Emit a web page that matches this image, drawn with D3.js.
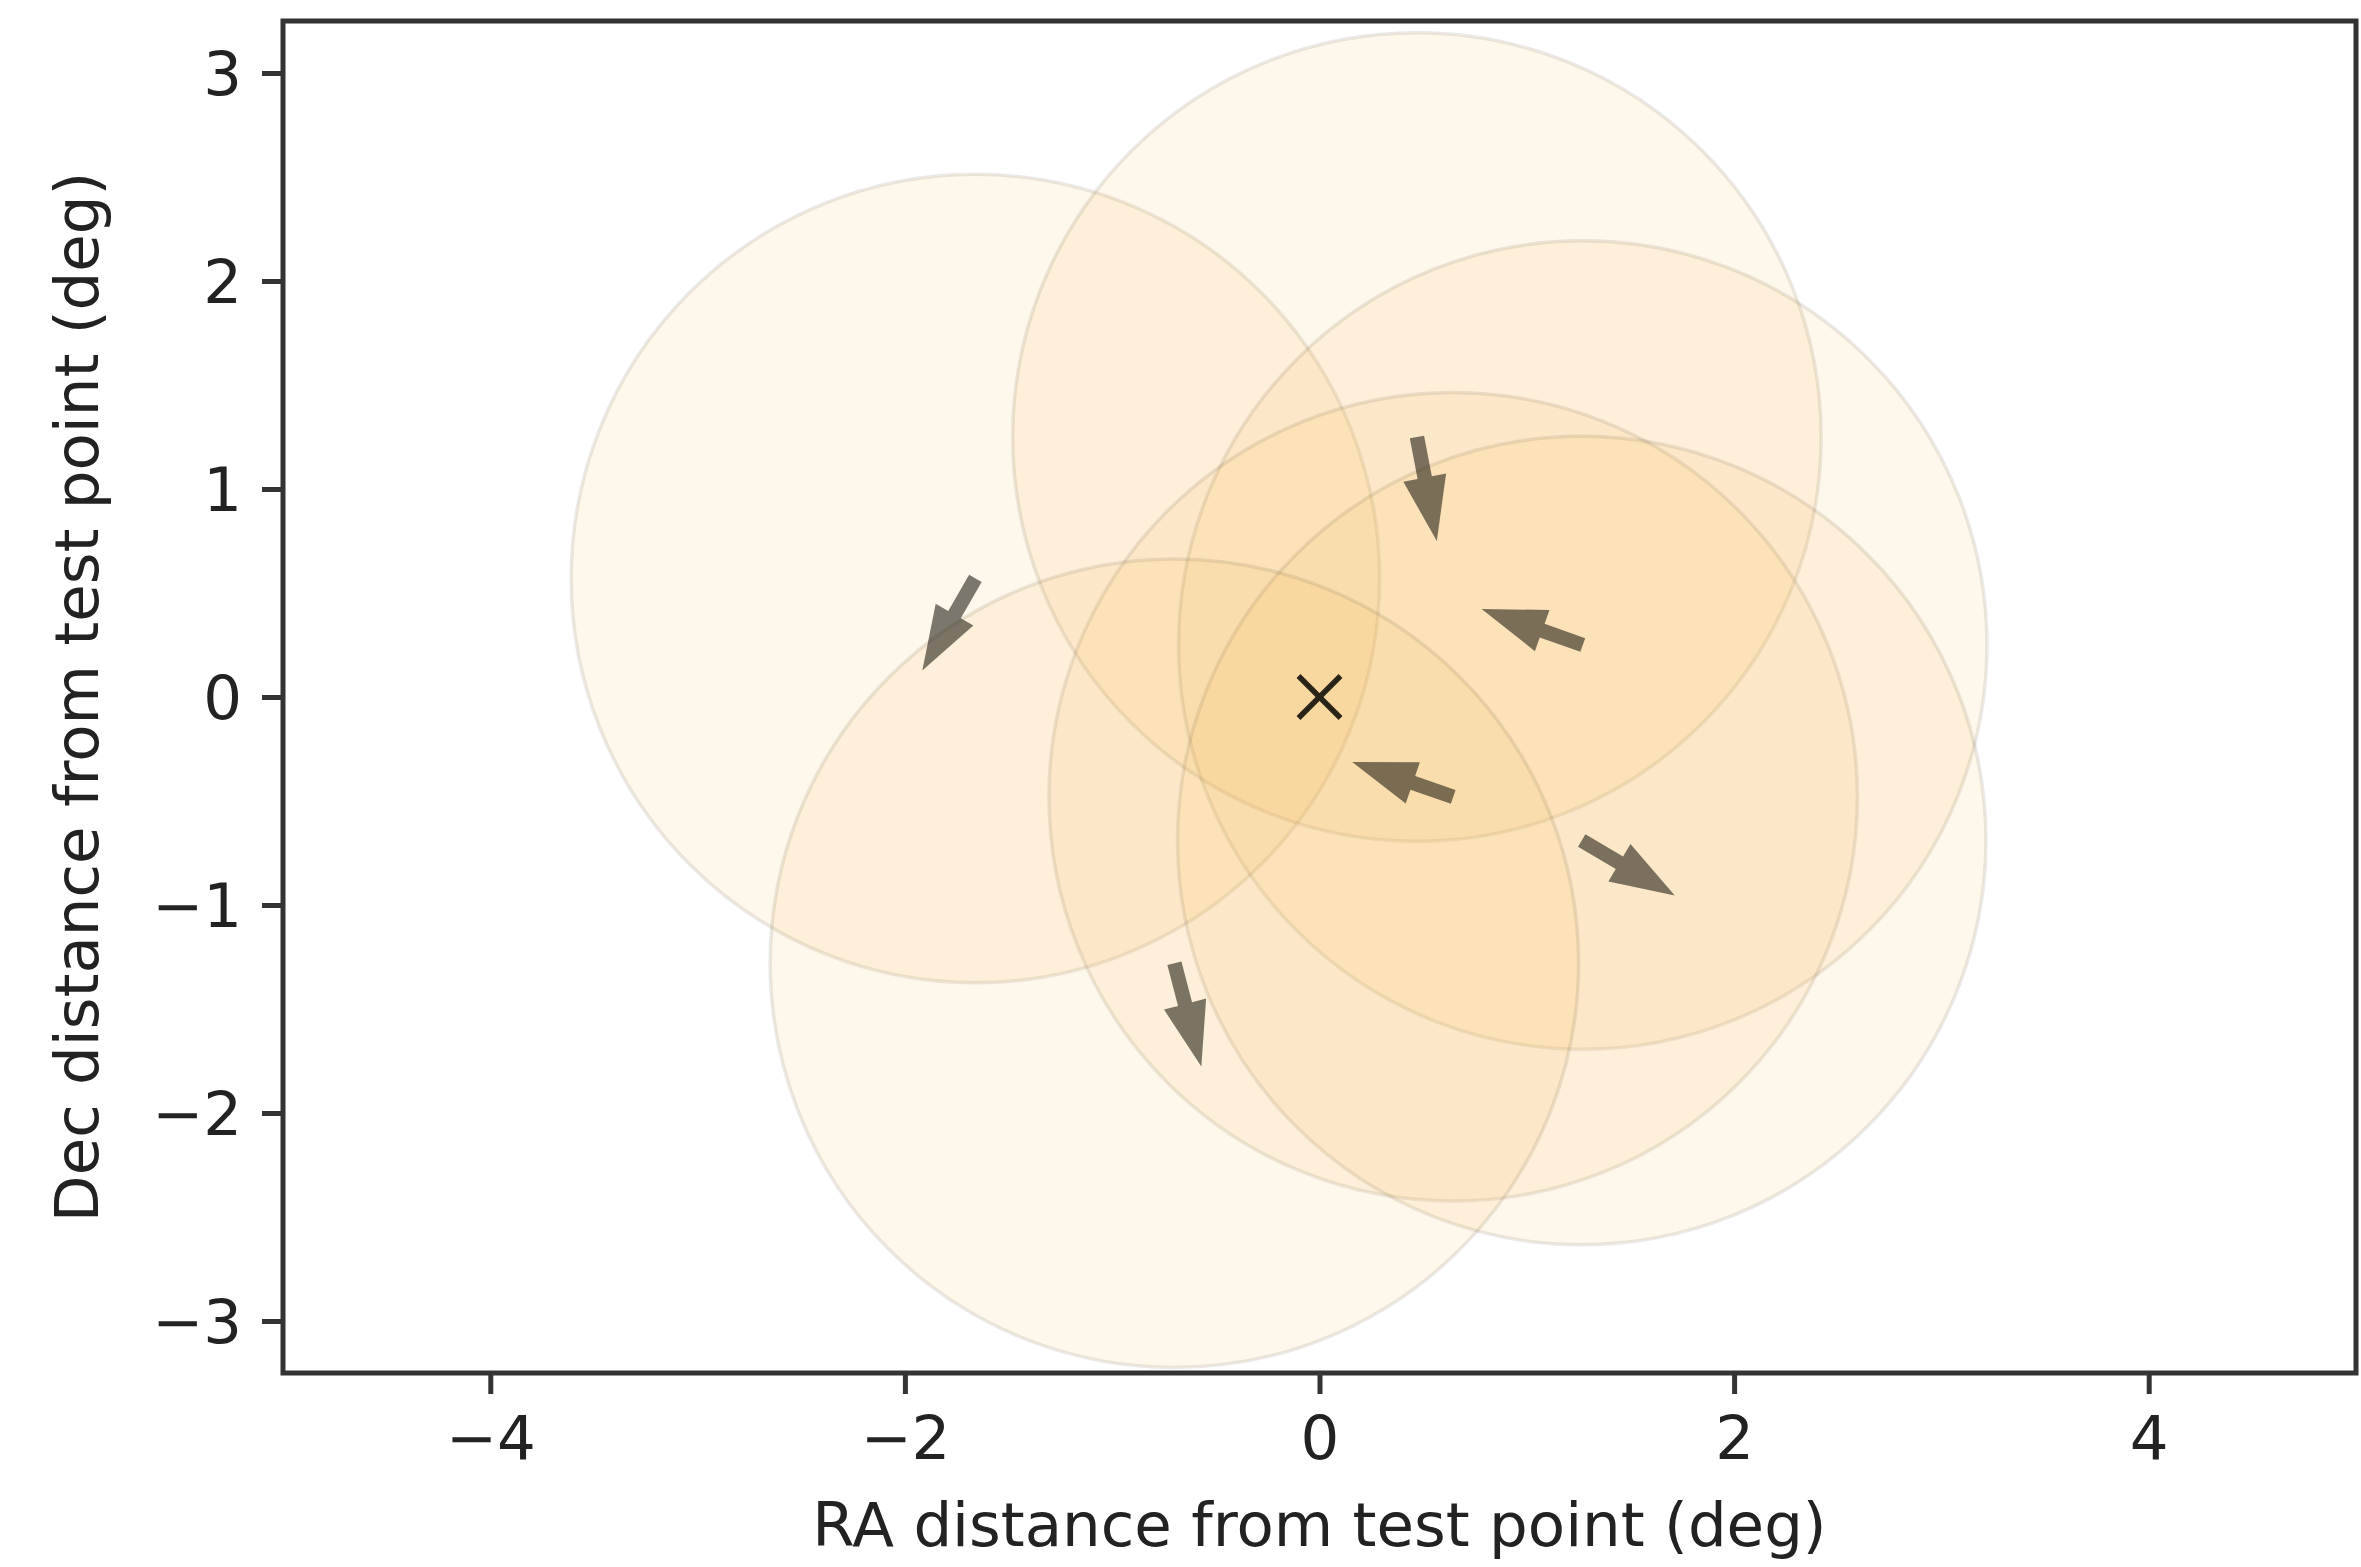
<!DOCTYPE html>
<html>
<head>
<meta charset="utf-8">
<script src="https://cdn.jsdelivr.net/npm/d3@7"></script>
<style>
  body { margin: 0; background: #fff; }
  text { font-family: "DejaVu Sans", sans-serif; fill: #222; }
</style>
</head>
<body>
<script>
// circle centres (deg from test point), all same radius
var circleX = [-1.66, 0.47, 1.27, 0.645, 1.265, -0.70];
var circleY = [0.57, 1.25, 0.25, -0.48, -0.69, -1.28];
var circleR = [1.95, 1.95, 1.95, 1.95, 1.95, 1.95];

// arrow offsets, drawn from each circle centre
var arrowDX = [-0.256, 0.096, -0.488, -0.488, 0.449, 0.13];
var arrowDY = [-0.442, -0.50, 0.173, 0.168, -0.264, -0.496];

var xTicks = [-4, -2, 0, 2, 4];
var yTicks = [-3, -2, -1, 0, 1, 2, 3];
var testPoint = [0, 0];

var width = 2361,
    height = 1567,
    margin = {top: 21, right: 5, bottom: 194, left: 283};

var svg = d3.select("body")
    .append("svg")
    .attr("width", width)
    .attr("height", height);

var x = d3.scaleLinear()
    .domain([-5, 5])
    .range([margin.left, width - margin.right]);

var y = d3.scaleLinear()
    .domain([-3.25, 3.25])
    .range([height - margin.bottom, margin.top]);

svg.append("clipPath")
    .attr("id", "clip")
    .append("rect")
    .attr("x", x(-5))
    .attr("y", y(3.25))
    .attr("width", x(5) - x(-5))
    .attr("height", y(-3.25) - y(3.25));

var plot = svg.append("g").attr("clip-path", "url(#clip)");

//the search circles
plot.selectAll(".field")
    .data(circleX)
    .enter()
    .append("circle")
    .attr("class", "field")
    .attr("cx", function(d){ return x(d); })
    .attr("cy", function(d, i){ return y(circleY[i]); })
    .attr("r", function(d, i){ return x(circleR[i]) - x(0); })
    .attr("fill", "#f9b23c")
    .attr("fill-opacity", 0.1)
    .attr("stroke", "#5a4a30")
    .attr("stroke-opacity", 0.12)
    .attr("stroke-width", 3.5);

//arrows as polygons (width / head sizes in data units)
var shaftW = 0.07, headW = 0.21, headL = 0.31;
function arrowPoints(i){
    var x0 = circleX[i], y0 = circleY[i],
        dx = arrowDX[i], dy = arrowDY[i],
        len = Math.sqrt(dx * dx + dy * dy),
        ux = dx / len, uy = dy / len,
        nx = -uy, ny = ux,
        b = len - headL;
    var pts = [
        [x0 + nx * shaftW / 2, y0 + ny * shaftW / 2],
        [x0 + ux * b + nx * shaftW / 2, y0 + uy * b + ny * shaftW / 2],
        [x0 + ux * b + nx * headW / 2, y0 + uy * b + ny * headW / 2],
        [x0 + dx, y0 + dy],
        [x0 + ux * b - nx * headW / 2, y0 + uy * b - ny * headW / 2],
        [x0 + ux * b - nx * shaftW / 2, y0 + uy * b - ny * shaftW / 2],
        [x0 - nx * shaftW / 2, y0 - ny * shaftW / 2]
    ];
    return pts.map(function(p){ return x(p[0]) + "," + y(p[1]); }).join(" ");
}

plot.selectAll(".arrow")
    .data(circleX)
    .enter()
    .append("polygon")
    .attr("class", "arrow")
    .attr("points", function(d, i){ return arrowPoints(i); })
    .attr("fill", "#1e1a10")
    .attr("fill-opacity", 0.58);

//test point marker
var mk = 21;
var cross = plot.append("g")
    .attr("transform", "translate(" + x(testPoint[0]) + "," + y(testPoint[1]) + ")")
    .attr("stroke", "#2a2418")
    .attr("stroke-width", 5.5);
cross.append("line").attr("x1", -mk).attr("y1", -mk).attr("x2", mk).attr("y2", mk);
cross.append("line").attr("x1", -mk).attr("y1", mk).attr("x2", mk).attr("y2", -mk);

//axes
var fmt = function(d){ return d < 0 ? "\u2212" + Math.abs(d) : d; };

var xAxis = svg.append("g")
    .attr("transform", "translate(0," + y(-3.25) + ")")
    .call(d3.axisBottom(x).tickValues(xTicks).tickFormat(fmt)
        .tickSize(21).tickSizeOuter(0).tickPadding(22));

var yAxis = svg.append("g")
    .attr("transform", "translate(" + x(-5) + ",0)")
    .call(d3.axisLeft(y).tickValues(yTicks).tickFormat(fmt)
        .tickSize(21).tickSizeOuter(0).tickPadding(20));

[xAxis, yAxis].forEach(function(a){
    a.select(".domain").remove();
    a.selectAll(".tick line").attr("stroke", "#333").attr("stroke-width", 5);
    a.selectAll(".tick text")
        .attr("font-family", "DejaVu Sans")
        .attr("font-size", 61)
        .attr("fill", "#222");
});
yAxis.selectAll(".tick text").attr("dy", "0.36em");

svg.append("rect")
    .attr("x", x(-5))
    .attr("y", y(3.25))
    .attr("width", x(5) - x(-5))
    .attr("height", y(-3.25) - y(3.25))
    .attr("fill", "none")
    .attr("stroke", "#333")
    .attr("stroke-width", 5);

//axis labels
svg.append("text")
    .attr("x", (x(-5) + x(5)) / 2)
    .attr("y", 1546)
    .attr("text-anchor", "middle")
    .attr("font-size", 61)
    .text("RA distance from test point (deg)");

svg.append("text")
    .attr("transform", "translate(98," + (y(-3.25) + y(3.25)) / 2 + ") rotate(-90)")
    .attr("text-anchor", "middle")
    .attr("font-size", 61)
    .text("Dec distance from test point (deg)");
</script>
</body>
</html>
